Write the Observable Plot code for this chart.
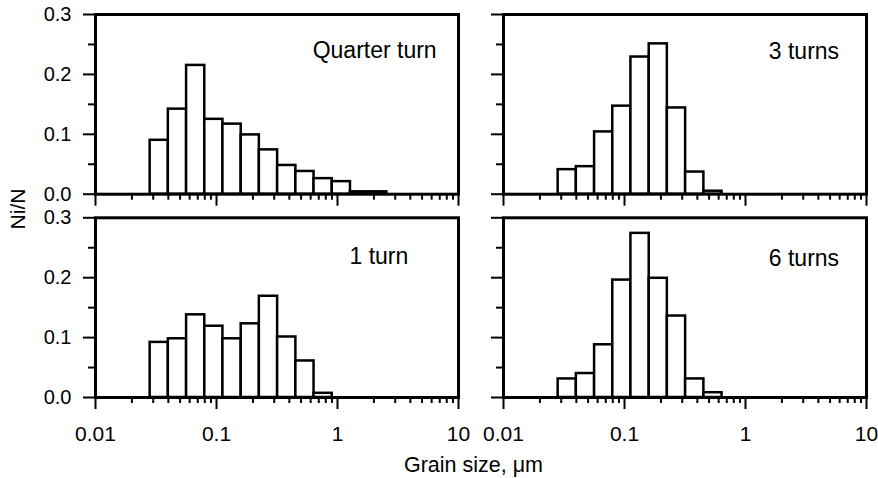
<!DOCTYPE html>
<html>
<head>
<meta charset="utf-8">
<script src="https://cdn.jsdelivr.net/npm/d3@7"></script>
<script src="https://cdn.jsdelivr.net/npm/@observablehq/plot@0.6"></script>
<style>
  html, body { margin: 0; padding: 0; background: #fff; }
  #chart { width: 878px; height: 478px; }
</style>
</head>
<body>
<div id="chart"></div>
<script>
// Bin edges (log-spaced), µm
const binEdges = [0.0283, 0.04, 0.0566, 0.08, 0.113, 0.16, 0.226, 0.32, 0.453, 0.64, 0.905, 1.28, 1.81, 2.56];

// Panel names and facet placement
const panelNames = ["Quarter turn", "3 turns", "1 turn", "6 turns"];
const panelCol = ["left", "right", "left", "right"];
const panelRow = ["top", "top", "bottom", "bottom"];

// Ni/N values per bin, starting at the first edge
const quarterTurn = [0.090, 0.142, 0.215, 0.125, 0.117, 0.099, 0.074, 0.048, 0.038, 0.026, 0.021, 0.004, 0.004];
const threeTurns  = [0.041, 0.046, 0.104, 0.147, 0.229, 0.251, 0.144, 0.037, 0.005];
const oneTurn     = [0.092, 0.098, 0.138, 0.119, 0.098, 0.123, 0.169, 0.101, 0.061, 0.007];
const sixTurns    = [0.031, 0.040, 0.088, 0.196, 0.274, 0.199, 0.136, 0.031, 0.008];

// Panel label anchor (data units)
const labelX = [6.6, 5.94, 3.85, 5.94];
const labelY = [0.240, 0.238, 0.235, 0.232];

// Axis ticks
const xMajorTicks = [0.01, 0.1, 1, 10];
const xMinorTicks = [0.02,0.03,0.04,0.05,0.06,0.07,0.08,0.09,0.2,0.3,0.4,0.5,0.6,0.7,0.8,0.9,2,3,4,5,6,7,8,9];
const yMajorTicks = [0, 0.1, 0.2, 0.3];
const yMinorTicks = [0.05, 0.15, 0.25];

const series = [quarterTurn, threeTurns, oneTurn, sixTurns];
const rows = [];
series.forEach((vals, p) => {
  vals.forEach((v, i) => {
    rows.push({col: panelCol[p], row: panelRow[p], x1: binEdges[i], x2: binEdges[i + 1], y: v});
  });
});
const labels = panelNames.map((name, p) => ({name, col: panelCol[p], row: panelRow[p], x: labelX[p], y: labelY[p]}));

const font = "'Liberation Sans', Arial, Helvetica, sans-serif";
const blank = () => "";

const chart = Plot.plot({
  width: 878,
  height: 478,
  marginLeft: 95,
  marginRight: 12,
  marginTop: 14,
  marginBottom: 81,
  style: {fontFamily: font, color: "black", background: "white"},
  fx: {domain: ["left", "right"], paddingInner: 0.1103, paddingOuter: 0, round: false, axis: null},
  fy: {domain: ["top", "bottom"], paddingInner: 0.116, paddingOuter: 0, round: false, axis: null},
  x: {type: "log", domain: [0.01, 10], label: null},
  y: {domain: [0, 0.3], label: null},
  marks: [
    Plot.rectY(rows, {x1: "x1", x2: "x2", y: "y", fx: "col", fy: "row", fill: "white", stroke: "black", strokeWidth: 2.5}),
    Plot.frame({stroke: "black", strokeWidth: 3}),
    // x ticks on every panel
    Plot.axisX({ticks: xMajorTicks, tickSize: 12, tickFormat: blank, facetAnchor: null, anchor: "bottom", strokeWidth: 2, label: null}),
    Plot.axisX({ticks: xMinorTicks, tickSize: 6, tickFormat: blank, facetAnchor: null, anchor: "bottom", strokeWidth: 2, label: null}),
    // x labels on bottom panels
    Plot.axisX({ticks: xMajorTicks, tickSize: 0, tickPadding: 29, tickFormat: d => String(d), facetAnchor: "bottom", anchor: "bottom", fontSize: 21, label: null}),
    // y ticks on every panel
    Plot.axisY({ticks: yMajorTicks, tickSize: 12, tickFormat: blank, facetAnchor: null, anchor: "left", strokeWidth: 2, label: null}),
    Plot.axisY({ticks: yMinorTicks, tickSize: 7, tickFormat: blank, facetAnchor: null, anchor: "left", strokeWidth: 2, label: null}),
    // y labels on left panels
    Plot.axisY({ticks: yMajorTicks, tickSize: 0, tickPadding: 24, tickFormat: d3.format(".1f"), facetAnchor: "left", anchor: "left", fontSize: 20, label: null}),
    Plot.text(labels, {x: "x", y: "y", fx: "col", fy: "row", text: "name", textAnchor: "end", lineAnchor: "middle", fontSize: 23, fill: "black"})
  ]
});

const svg = d3.select(chart);
svg.append("text")
  .attr("transform", "translate(25,209) rotate(-90)")
  .attr("text-anchor", "middle")
  .attr("font-size", 21)
  .attr("font-family", font)
  .attr("fill", "black")
  .text("Ni/N");
svg.append("text")
  .attr("x", 473.5)
  .attr("y", 472)
  .attr("text-anchor", "middle")
  .attr("font-size", 21.5)
  .attr("font-family", font)
  .attr("fill", "black")
  .text("Grain size, \u03bcm");

document.getElementById("chart").appendChild(chart);
</script>
</body>
</html>
